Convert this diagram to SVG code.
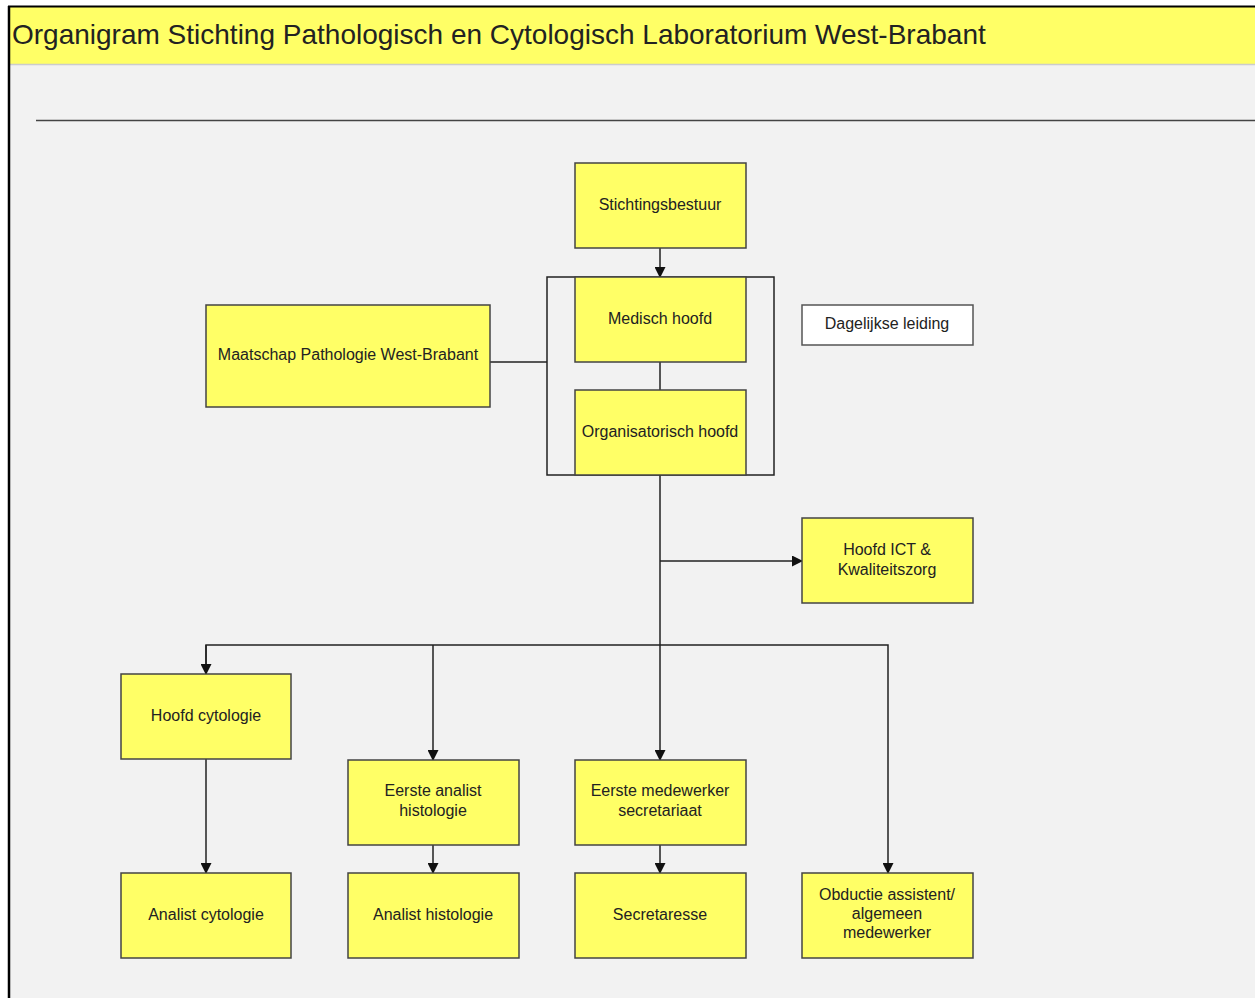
<svg xmlns="http://www.w3.org/2000/svg" width="1255" height="998" viewBox="0 0 1255 998">
<defs>
<marker id="arr" markerWidth="11" markerHeight="11" refX="10" refY="5.5" orient="auto" markerUnits="userSpaceOnUse">
<path d="M0,0 L11,5.5 L0,11 Z" fill="#111"/>
</marker>
<style>
.box{fill:#ffff66;stroke:#444;stroke-width:1.5}
.t{font-family:"Liberation Sans",Arial,sans-serif;font-size:16px;fill:#222;text-anchor:middle}
.c{fill:none;stroke:#222;stroke-width:1.5}
</style>
</defs>
<rect x="0" y="0" width="1255" height="998" fill="#ffffff"/>
<rect x="9" y="7" width="1246" height="991" fill="#f2f2f2"/>
<rect x="9" y="7" width="1246" height="57" fill="#ffff66"/>
<line x1="9" y1="64.5" x2="1255" y2="64.5" stroke="#cccccc" stroke-width="1.5"/>
<line x1="8" y1="6.5" x2="1255" y2="6.5" stroke="#000" stroke-width="2"/>
<line x1="9" y1="6" x2="9" y2="998" stroke="#000" stroke-width="2.5"/>
<line x1="36" y1="120.5" x2="1255" y2="120.5" stroke="#444" stroke-width="1.5"/>
<text x="12" y="44" font-family="Liberation Sans,Arial,sans-serif" font-size="28" fill="#222">Organigram Stichting Pathologisch en Cytologisch Laboratorium West-Brabant</text>

<g id="connectors">
<rect x="547" y="277" width="227" height="198" class="c"/>
<line x1="660" y1="248" x2="660" y2="277" class="c" marker-end="url(#arr)"/>
<line x1="660" y1="362" x2="660" y2="390" class="c"/>
<line x1="490" y1="362" x2="547" y2="362" class="c"/>
<line x1="660" y1="475" x2="660" y2="760" class="c" marker-end="url(#arr)"/>
<line x1="660" y1="561" x2="802" y2="561" class="c" marker-end="url(#arr)"/>
<polyline points="206,674 206,645 888,645 888,873" class="c" marker-end="url(#arr)"/>
<line x1="206" y1="645" x2="206" y2="674" class="c" marker-end="url(#arr)"/>
<line x1="433" y1="645" x2="433" y2="760" class="c" marker-end="url(#arr)"/>
<line x1="206" y1="759" x2="206" y2="873" class="c" marker-end="url(#arr)"/>
<line x1="433" y1="845" x2="433" y2="873" class="c" marker-end="url(#arr)"/>
<line x1="660" y1="845" x2="660" y2="873" class="c" marker-end="url(#arr)"/>
</g>

<g id="stichtingsbestuur"><rect x="575" y="163" width="171" height="85" class="box"/><text x="660" y="210" class="t">Stichtingsbestuur</text></g>
<g id="medisch-hoofd"><rect x="575" y="277" width="171" height="85" class="box"/><text x="660" y="324" class="t">Medisch hoofd</text></g>
<g id="organisatorisch-hoofd"><rect x="575" y="390" width="171" height="85" class="box"/><text x="660" y="437" class="t">Organisatorisch hoofd</text></g>
<g id="maatschap"><rect x="206" y="305" width="284" height="102" class="box"/><text x="348" y="360" class="t">Maatschap Pathologie West-Brabant</text></g>
<g id="dagelijkse-leiding"><rect x="802" y="305" width="171" height="40" fill="#ffffff" stroke="#555" stroke-width="1.5"/><text x="887" y="329" class="t">Dagelijkse leiding</text></g>
<g id="hoofd-ict"><rect x="802" y="518" width="171" height="85" class="box"/><text x="887" y="555" class="t">Hoofd ICT &amp;</text><text x="887" y="575" class="t">Kwaliteitszorg</text></g>
<g id="hoofd-cytologie"><rect x="121" y="674" width="170" height="85" class="box"/><text x="206" y="721" class="t">Hoofd cytologie</text></g>
<g id="eerste-analist"><rect x="348" y="760" width="171" height="85" class="box"/><text x="433" y="796" class="t">Eerste analist</text><text x="433" y="816" class="t">histologie</text></g>
<g id="eerste-medewerker"><rect x="575" y="760" width="171" height="85" class="box"/><text x="660" y="796" class="t">Eerste medewerker</text><text x="660" y="816" class="t">secretariaat</text></g>
<g id="analist-cytologie"><rect x="121" y="873" width="170" height="85" class="box"/><text x="206" y="920" class="t">Analist cytologie</text></g>
<g id="analist-histologie"><rect x="348" y="873" width="171" height="85" class="box"/><text x="433" y="920" class="t">Analist histologie</text></g>
<g id="secretaresse"><rect x="575" y="873" width="171" height="85" class="box"/><text x="660" y="920" class="t">Secretaresse</text></g>
<g id="obductie"><rect x="802" y="873" width="171" height="85" class="box"/><text x="887" y="900" class="t">Obductie assistent/</text><text x="887" y="919" class="t">algemeen</text><text x="887" y="938" class="t">medewerker</text></g>
</svg>
